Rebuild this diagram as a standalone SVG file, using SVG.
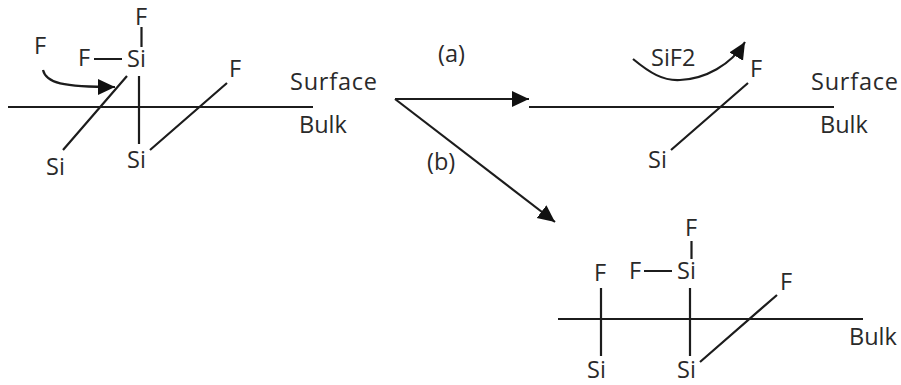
<svg xmlns="http://www.w3.org/2000/svg" width="901" height="385" viewBox="0 0 901 385">
<style>
text{font-family:"Open Sans","Noto Sans","Liberation Sans",sans-serif;font-size:23.500px;fill:#2a2a2a}
.l{stroke:#1c1c1c;stroke-width:2.200;fill:none}
</style>
<defs>
<marker id="a" markerUnits="userSpaceOnUse" markerWidth="20" markerHeight="18" refX="17" refY="8" orient="auto"><path d="M0 0L17 8L0 16z" fill="#111"/></marker>
</defs>
<rect width="901" height="385" fill="#fff"/>
<g id="connectors">
<path class="l" d="M8 107H313M141.500 27V47M94 59H122M127 76L63 150M139 76V144M227 83L150 150"/>
<path class="l" marker-end="url(#a)" d="M43 70C46 83 62 87 115 87"/>
<path class="l" marker-end="url(#a)" d="M395 99H529"/>
<path class="l" marker-end="url(#a)" d="M395 99L555 222"/>
<path class="l" d="M529 107H834M748 83L671 150"/>
<path class="l" marker-end="url(#a)" d="M633 59C650 73 663 81 680 80C705 79 731 65 745 42"/>
<path class="l" d="M558 319H863M691.500 241V259M644 271H672M690 288V356M777 295L700 362M601 288V356"/>
</g>
<g id="left-surface">
<text x="135" y="25">F</text><text x="34" y="54">F</text><text x="78" y="66">F</text><text x="127" y="67">Si</text><text x="229" y="77">F</text><text x="290" y="90" textLength="87">Surface</text><text x="299" y="133">Bulk</text><text x="46" y="175">Si</text><text x="127" y="168">Si</text>
</g>
<g id="labels"><text x="438" y="62">(a)</text><text x="427" y="170">(b)</text></g>
<g id="right-surface">
<text x="651" y="66">SiF2</text><text x="750" y="77">F</text><text x="811" y="90" textLength="87">Surface</text><text x="820" y="133">Bulk</text><text x="648" y="168">Si</text>
</g>
<g id="bottom-surface">
<text x="685" y="236">F</text><text x="629" y="279">F</text><text x="677" y="279">Si</text><text x="594" y="281">F</text><text x="780" y="290">F</text><text x="849" y="345">Bulk</text><text x="587" y="378">Si</text><text x="677" y="378">Si</text>
</g>
</svg>
